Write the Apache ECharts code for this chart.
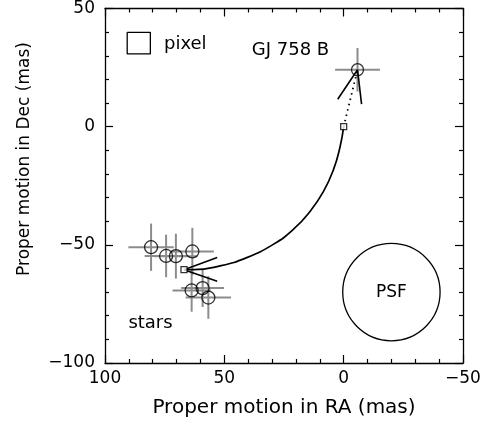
<!DOCTYPE html>
<html><head><meta charset="utf-8">
<script src="https://cdn.jsdelivr.net/npm/echarts@6/dist/echarts.min.js"></script>
<style>html,body{margin:0;padding:0;background:#fff}#c{width:487px;height:423px}</style>
</head><body><div id="c"></div>
<script>
// ---- data (mas) ----
const xTickValues = [100, 50, 0, -50];
const yTickValues = [50, 0, -50, -100];
const starsRA = [80.7, 74.4, 70.3, 63.4, 63.7, 59.1, 56.7];
const starsDec = [-51.0, -54.7, -54.8, -52.8, -69.3, -68.3, -72.3];
const starsErrRA = [9.5, 9.0, 9.0, 9.0, 8.0, 9.0, 9.5];
const starsErrDec = [10.0, 9.0, 9.5, 10.0, 9.0, 8.0, 9.0];
const compRA = [-5.8];
const compDec = [24.1];
const compErrRA = [9.4];
const compErrDec = [9.2];
const trackRA = [0, 1.55, 4.35, 8.5, 14.1, 21.1, 29.5, 40.6, 51.8, 63.0, 66.9];
const trackDec = [0, -8.7, -18.4, -27.5, -35.9, -43.5, -49.8, -55.4, -58.9, -60.5, -60.5];
const epochRA = [0, 66.9];
const epochDec = [0, -60.5];
const compVecRA = [[-5.8, 2.5], [-5.8, -7.5]];
const compVecDec = [[24.1, 11.6], [24.1, 9.5]];
const starVecRA = [[66.9, 53.0], [66.9, 53.0]];
const starVecDec = [[-60.5, -55.4], [-60.5, -65.4]];
const pixelBoxRA = [90.7, 81.0, 81.0, 90.7, 90.7];
const pixelBoxDec = [39.9, 39.9, 30.8, 30.8, 39.9];
const psfRA = [-20];
const psfDec = [-70];
const psfRadius = [20.5];
const noteTexts = ['pixel', 'GJ 758 B', 'stars'];
const noteRA = [75.3, 38.5, 90.2];
const noteDec = [34.7, 32.2, -83.3];

// ---- chart ----
const FONT = '"DejaVu Sans", "Liberation Sans", sans-serif';
const zip = (a, b) => a.map((v, i) => [v, b[i]]);
const fmt = v => String(v).replace('-', '\u2212');

const axisCommon = {
  min: -50, max: 100, interval: 50,
  axisLine: {show: true, onZero: false, lineStyle: {color: '#000', width: 1.3}},
  axisTick: {show: true, inside: true, length: 8, lineStyle: {color: '#000', width: 1.2}},
  minorTick: {show: true, splitNumber: 5, length: 4, lineStyle: {color: '#000', width: 1.2}},
  splitLine: {show: false}, minorSplitLine: {show: false}
};
const yCommon = Object.assign({}, axisCommon, {min: -100, max: 50});

function errRender(params, api) {
  const x = api.value(0), y = api.value(1), ex = api.value(2), ey = api.value(3);
  const l = api.coord([x - ex, y]), r = api.coord([x + ex, y]);
  const t = api.coord([x, y + ey]), b = api.coord([x, y - ey]);
  const st = {stroke: '#8c8c8c', lineWidth: 2};
  return {type: 'group', children: [
    {type: 'line', shape: {x1: l[0], y1: l[1], x2: r[0], y2: r[1]}, style: st},
    {type: 'line', shape: {x1: t[0], y1: t[1], x2: b[0], y2: b[1]}, style: st}
  ]};
}

const series = [
  {type: 'custom', renderItem: errRender, silent: true, z: 1,
   data: starsRA.map((v, i) => [v, starsDec[i], starsErrRA[i], starsErrDec[i]]), encode: {x: 0, y: 1}},
  {type: 'custom', renderItem: errRender, silent: true, z: 1,
   data: compRA.map((v, i) => [v, compDec[i], compErrRA[i], compErrDec[i]]), encode: {x: 0, y: 1}},
  {type: 'line', data: zip(trackRA, trackDec), smooth: 0.5, symbol: 'none',
   lineStyle: {color: '#000', width: 1.7}, z: 3, silent: true},
  {type: 'line', data: [[epochRA[0], epochDec[0]], [compRA[0], compDec[0]]], symbol: 'none',
   lineStyle: {color: '#000', width: 1.8, type: [1.5, 4]}, z: 3, silent: true},
  ...compVecRA.map((r, i) => ({type: 'line', data: zip(r, compVecDec[i]), symbol: 'none',
   lineStyle: {color: '#000', width: 1.6}, z: 3, silent: true})),
  ...starVecRA.map((r, i) => ({type: 'line', data: zip(r, starVecDec[i]), symbol: 'none',
   lineStyle: {color: '#000', width: 1.6}, z: 3, silent: true})),
  {type: 'scatter', data: zip(epochRA, epochDec), symbol: 'rect', symbolSize: 6,
   itemStyle: {color: '#fff', borderColor: '#000', borderWidth: 1.3}, z: 5, silent: true},
  {type: 'scatter', data: zip(starsRA, starsDec), symbol: 'circle', symbolSize: 13,
   itemStyle: {color: 'rgba(0,0,0,0)', borderColor: '#000', borderWidth: 1.3}, z: 4, silent: true},
  {type: 'scatter', data: zip(compRA, compDec), symbol: 'circle', symbolSize: 12,
   itemStyle: {color: 'rgba(0,0,0,0)', borderColor: '#000', borderWidth: 1.3}, z: 4, silent: true},
  {type: 'line', data: zip(pixelBoxRA, pixelBoxDec), symbol: 'none',
   lineStyle: {color: '#000', width: 1.3}, silent: true},
  {type: 'custom', silent: true, z: 2,
   data: psfRA.map((v, i) => [v, psfDec[i], psfRadius[i]]), encode: {x: 0, y: 1},
   renderItem: (params, api) => {
     const c = api.coord([api.value(0), api.value(1)]);
     const s = api.size([api.value(2), api.value(2)]);
     const r = (s[0] + s[1]) / 2;
     return {type: 'group', children: [
       {type: 'circle', shape: {cx: c[0], cy: c[1], r: r}, style: {fill: 'none', stroke: '#000', lineWidth: 1.3}},
       {type: 'text', x: c[0], y: c[1], style: {text: 'PSF', font: '17px ' + FONT, align: 'center', verticalAlign: 'middle', fill: '#000'}}
     ]};
   }},
  {type: 'custom', silent: true, z: 6,
   data: zip(noteRA, noteDec), encode: {x: 0, y: 1},
   renderItem: (params, api) => {
     const p = api.coord([api.value(0), api.value(1)]);
     return {type: 'text', x: p[0], y: p[1], style: {text: noteTexts[params.dataIndex],
       font: '18px ' + FONT, align: 'left', verticalAlign: 'middle', fill: '#000'}};
   }}
];

const chart = echarts.init(document.getElementById('c'), null, {renderer: 'canvas'});
chart.setOption({
  animation: false,
  backgroundColor: '#fff',
  grid: {left: 105, right: 24, top: 6, bottom: 58, containLabel: false},
  xAxis: [
    Object.assign({}, axisCommon, {type: 'value', position: 'bottom', inverse: true,
      axisLabel: {show: true, margin: 7, color: '#000', fontFamily: FONT, fontSize: 17,
        formatter: v => xTickValues.includes(v) ? fmt(v) : ''},
      name: 'Proper motion in RA (mas)', nameLocation: 'middle', nameGap: 35,
      nameTextStyle: {color: '#000', fontFamily: FONT, fontSize: 20}}),
    Object.assign({}, axisCommon, {type: 'value', position: 'top', inverse: true, axisLabel: {show: false}})
  ],
  yAxis: [
    Object.assign({}, yCommon, {type: 'value', position: 'left',
      axisLabel: {show: true, margin: 10, color: '#000', fontFamily: FONT, fontSize: 17,
        formatter: v => yTickValues.includes(v) ? fmt(v) : ''}}),
    Object.assign({}, yCommon, {type: 'value', position: 'right', axisLabel: {show: false}})
  ],
  graphic: [{type: 'text', x: 25, y: 159, rotation: Math.PI / 2,
    style: {text: 'Proper motion in Dec (mas)', font: '17px ' + FONT, align: 'center', verticalAlign: 'middle', fill: '#000'}}],
  series: series
});
</script></body></html>
